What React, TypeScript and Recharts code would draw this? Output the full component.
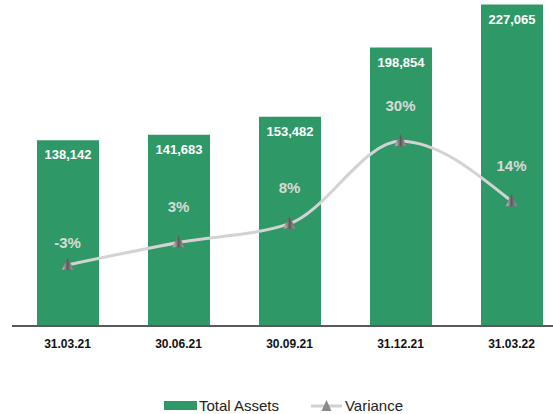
import {
  Bar,
  ComposedChart,
  LabelList,
  Legend,
  Line,
  XAxis,
  YAxis,
} from 'recharts';

const dates = ['31.03.21', '30.06.21', '30.09.21', '31.12.21', '31.03.22'];
const totalAssets = [138142, 141683, 153482, 198854, 227065];
const variance = [-3, 3, 8, 30, 14];

const data = dates.map((date, i) => ({
  date,
  assets: totalAssets[i],
  variance: variance[i],
}));

const FONT = '"Liberation Sans", Arial, sans-serif';
const GREEN = '#2E9966';

function Triangle(props: any) {
  const { cx, cy } = props;
  if (cx == null || cy == null) return null;
  return (
    <polygon
      points={`${cx},${cy - 7} ${cx - 6},${cy + 5} ${cx + 6},${cy + 5}`}
      fill='url(#triGrad)'
      stroke='#6b6b6b'
      strokeWidth={0.5}
    />
  );
}

function VarianceLabel(props: any) {
  const { x, y, value } = props;
  if (x == null || y == null) return null;
  const lift = value < 0 ? 22 : 36;
  return (
    <text
      x={x}
      y={y - lift}
      textAnchor='middle'
      dominantBaseline='central'
      fill='#d9d9d9'
      fontSize={15}
      fontWeight={700}
      fontFamily={FONT}
    >
      {`${value}%`}
    </text>
  );
}

function LegendContent() {
  return (
    <div
      style={{
        height: 58,
        display: 'flex',
        alignItems: 'flex-end',
        justifyContent: 'center',
        fontFamily: FONT,
        fontSize: 15,
        color: '#222',
      }}
    >
      <div style={{ display: 'flex', alignItems: 'center' }}>
        <span
          style={{
            display: 'inline-block',
            width: 33,
            height: 9,
            background: GREEN,
            marginRight: 2,
          }}
        />
        <span>Total Assets</span>
        <svg width={31} height={14} style={{ marginLeft: 32, marginRight: 3 }}>
          <line x1={0} y1={7} x2={31} y2={7} stroke='#d0d0d0' strokeWidth={3} />
          <polygon points='15.5,1 10.5,12 20.5,12' fill='#8a8a8a' />
        </svg>
        <span>Variance</span>
      </div>
    </div>
  );
}

export default function App() {
  return (
    <div
      style={{
        position: 'absolute',
        left: 0,
        top: 0,
        width: 553,
        height: 414,
        overflow: 'hidden',
        background: '#fff',
      }}
    >
      <ComposedChart
        width={567}
        height={414}
        data={data}
        margin={{ top: 0, right: 0, left: 12, bottom: 0 }}
        barCategoryGap={24}
      >
        <defs>
          <linearGradient id='triGrad' x1='0' y1='0' x2='1' y2='0'>
            <stop offset='0%' stopColor='#d8d8d8' />
            <stop offset='50%' stopColor='#5a5a5a' />
            <stop offset='100%' stopColor='#a8a8a8' />
          </linearGradient>
        </defs>
        <XAxis
          dataKey='date'
          height={30}
          tickLine={false}
          axisLine={{ stroke: '#595959', strokeWidth: 2 }}
          tick={{
            fill: '#111',
            fontSize: 12,
            fontWeight: 700,
            fontFamily: FONT,
          }}
          tickMargin={7}
        />
        <YAxis yAxisId='left' hide domain={[16500, 230000]} />
        <YAxis
          yAxisId='right'
          orientation='right'
          hide
          domain={[-19.3, 67.7]}
        />
        <Legend
          verticalAlign='bottom'
          height={58}
          content={<LegendContent />}
          wrapperStyle={{ left: 6 }}
        />
        <Bar
          yAxisId='left'
          dataKey='assets'
          name='Total Assets'
          fill={GREEN}
          barSize={62}
          isAnimationActive={false}
        >
          <LabelList
            dataKey='assets'
            position='insideTop'
            offset={10}
            formatter={(v: any) => Number(v).toLocaleString('en-US')}
            style={{
              fill: '#fff',
              fontSize: 13,
              fontWeight: 700,
              fontFamily: FONT,
            }}
          />
        </Bar>
        <Line
          yAxisId='right'
          dataKey='variance'
          name='Variance'
          type='monotone'
          stroke='#d3d3d3'
          strokeWidth={3}
          dot={<Triangle />}
          activeDot={false}
          isAnimationActive={false}
        >
          <LabelList dataKey='variance' content={<VarianceLabel />} />
        </Line>
      </ComposedChart>
    </div>
  );
}
